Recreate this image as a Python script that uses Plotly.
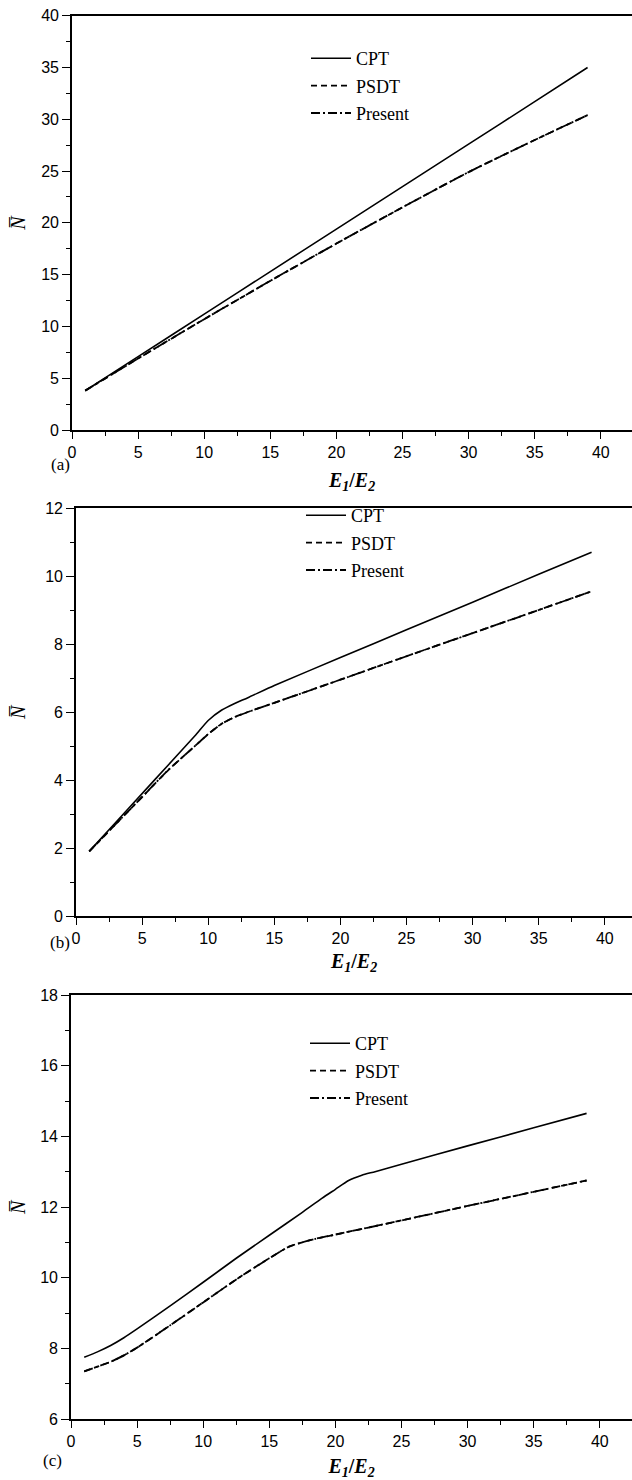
import plotly.graph_objects as go

# ---------------- data ----------------
# panel (a)
xa = [1, 5, 10, 15, 20, 25, 30, 35, 39]
cpt_a = [3.8, 7.08, 11.19, 15.29, 19.4, 23.5, 27.6, 31.7, 35.0]
psdt_a = [3.8, 6.9, 10.7, 14.4, 18.0, 21.5, 24.9, 28.0, 30.4]
present_a = [3.8, 6.9, 10.7, 14.4, 18.0, 21.5, 24.9, 28.0, 30.4]

# panel (b)
xb = [1, 3, 5, 7, 9, 10, 11, 12, 13, 15, 20, 25, 30, 35, 39]
cpt_b = [1.9, 2.75, 3.6, 4.45, 5.3, 5.75, 6.05, 6.25, 6.42, 6.78, 7.6, 8.42, 9.23, 10.05, 10.7]
psdt_b = [1.9, 2.7, 3.5, 4.3, 5.0, 5.35, 5.65, 5.85, 6.0, 6.27, 6.95, 7.64, 8.32, 9.0, 9.55]
present_b = [1.9, 2.7, 3.5, 4.3, 5.0, 5.35, 5.65, 5.85, 6.0, 6.27, 6.95, 7.64, 8.32, 9.0, 9.55]

# panel (c)
xc_cpt = [1, 2, 3, 4, 5, 7.5, 10, 12.5, 15, 17.5, 19, 20, 21, 22, 23, 25, 30, 35, 39]
cpt_c = [7.75, 7.9, 8.08, 8.3, 8.55, 9.2, 9.87, 10.55, 11.2, 11.85, 12.25, 12.5, 12.75, 12.9, 13.0,
         13.21, 13.73, 14.24, 14.65]
xc_psdt = [1, 2, 3, 4, 5, 7.5, 10, 12.5, 15, 16.5, 17.5, 18.5, 20, 25, 30, 35, 39]
psdt_c = [7.35, 7.48, 7.62, 7.8, 8.02, 8.65, 9.3, 9.95, 10.55, 10.88, 11.0, 11.1, 11.22, 11.62,
          12.03, 12.43, 12.75]
present_c = [7.35, 7.48, 7.62, 7.8, 8.02, 8.65, 9.3, 9.95, 10.55, 10.88, 11.0, 11.1, 11.22, 11.62,
             12.03, 12.43, 12.75]

series_names = ["CPT", "PSDT", "Present"]
panel_labels = ["(a)", "(b)", "(c)"]
y_title = "<i>N\u0305</i>"
y_ranges = [(0, 40), (0, 12), (6, 18)]
y_dticks = [5, 2, 2]

# ---------------- layout geometry (page pixels) ----------------
W, H = 632, 1480
panels_px = [  # (x0 px of axis, y top px, y bottom px)
    (72, 15.7, 430),
    (76, 508, 916),
    (71, 995, 1419),
]
label_px = [(60, 464), (60, 942), (52, 1460)]
legend_pos = [(306, 40), (301, 497), (305, 1025)]
xtitle_standoff = [13, 8, 17]
ytitle_x_px = 18
px_per_unit = 13.22

dash_styles = ["solid", "6px,4px", "9px,3px,2px,3px"]
widths = [1.6, 1.8, 1.8]

fig = go.Figure()

data = [
    ([cpt_a, psdt_a, present_a], [xa, xa, xa]),
    ([cpt_b, psdt_b, present_b], [xb, xb, xb]),
    ([cpt_c, psdt_c, present_c], [xc_cpt, xc_psdt, xc_psdt]),
]

for p, (ys, xs) in enumerate(data):
    ax = "" if p == 0 else str(p + 1)
    leg = "legend" if p == 0 else f"legend{p + 1}"
    for k in range(3):
        fig.add_trace(go.Scatter(
            x=xs[k], y=ys[k], mode="lines", name=series_names[k],
            line=dict(color="black", width=widths[k], dash=dash_styles[k], shape="spline", smoothing=0.6),
            xaxis="x" + ax, yaxis="y" + ax, legend=leg, legendgroup=f"g{p}{k}",
            showlegend=True,
        ))

tick_font = dict(family="Liberation Sans, Arial", size=16, color="black")
title_font_x = dict(family="Liberation Serif, Times New Roman", size=20, color="black")
serif = "Liberation Serif, Times New Roman"
layout = dict(
    width=W, height=H, margin=dict(l=0, r=0, t=0, b=0, autoexpand=False),
    plot_bgcolor="white", paper_bgcolor="white",
    showlegend=True,
)


def fx(px):
    return px / W


def fy(py):
    return 1 - py / H


annotations = []
for p, (x0, yt, yb) in enumerate(panels_px):
    ax = "" if p == 0 else str(p + 1)
    xmax = (W - x0) / px_per_unit
    layout["xaxis" + ax] = dict(
        domain=[fx(x0), 1.0], range=[0, xmax], anchor="y" + ax, automargin=False,
        showline=True, linecolor="black", linewidth=1.6, mirror=True,
        ticks="outside", ticklen=7, tickwidth=1.3, tickcolor="black",
        dtick=5, tick0=0, showgrid=False, zeroline=False,
        tickfont=tick_font, ticklabeloverflow="allow",
        minor=dict(ticks="outside", ticklen=4, tickwidth=1.3, tickcolor="black", dtick=2.5, tick0=0,
                   showgrid=False),
        title=dict(text="<b><i>E<sub>1</sub></i>/<i>E<sub>2</sub></i></b>", font=title_font_x,
                   standoff=xtitle_standoff[p]),
    )
    layout["yaxis" + ax] = dict(
        domain=[fy(yb), fy(yt)], range=list(y_ranges[p]), anchor="x" + ax, automargin=False,
        showline=True, linecolor="black", linewidth=1.6, mirror=False,
        ticks="outside", ticklen=8, tickwidth=1.3, tickcolor="black",
        dtick=y_dticks[p], tick0=0, showgrid=False, zeroline=False,
        tickfont=tick_font, ticklabeloverflow="allow",
        minor=dict(ticks="outside", ticklen=4, tickwidth=1.3, tickcolor="black",
                   dtick=y_dticks[p] / 2, tick0=0, showgrid=False),
    )
    lx, ly = legend_pos[p]
    layout["legend" if p == 0 else f"legend{p + 1}"] = dict(
        x=fx(lx), y=fy(ly), xanchor="left", yanchor="top",
        font=dict(family=serif, size=18, color="black"),
        bgcolor="rgba(0,0,0,0)", borderwidth=0, tracegroupgap=1, itemwidth=40,
    )
    cx, cy = label_px[p]
    annotations.append(dict(
        text=panel_labels[p], xref="paper", yref="paper",
        x=fx(cx), y=fy(cy), xanchor="center", yanchor="middle",
        showarrow=False, font=dict(family=serif, size=17, color="black"),
    ))
    # y-axis title, placed as a rotated label beside the axis
    annotations.append(dict(
        text=y_title, xref="paper", yref="paper",
        x=fx(ytitle_x_px), y=fy((yt + yb) / 2), xanchor="center", yanchor="middle",
        textangle=-90, showarrow=False, font=dict(family=serif, size=20, color="black"),
    ))

layout["annotations"] = annotations
fig.update_layout(**layout)
fig.write_html("out.html", config={"displayModeBar": False},
               post_script="document.body.style.margin='0px';")
